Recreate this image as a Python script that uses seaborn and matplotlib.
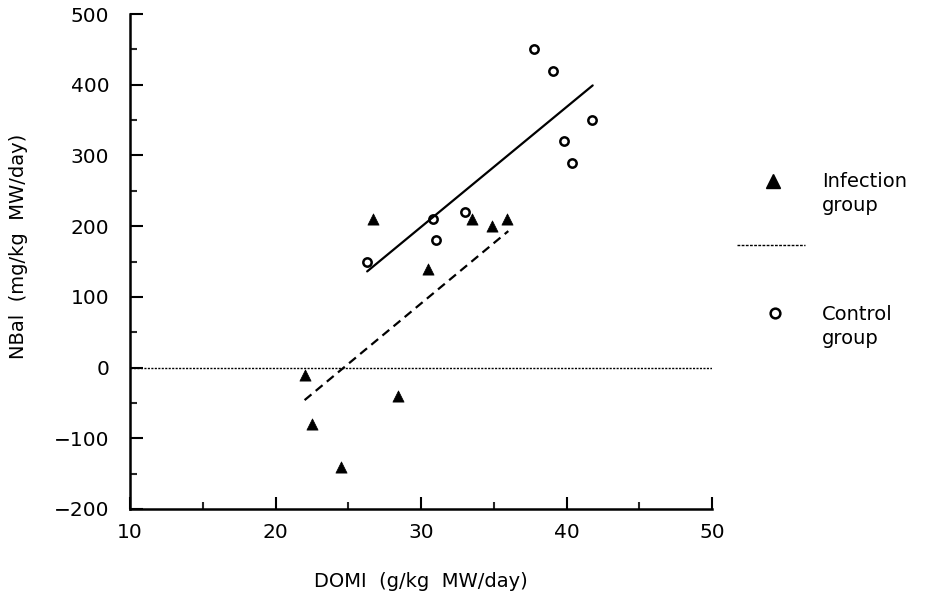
import matplotlib
matplotlib.use("Agg")
import matplotlib.pyplot as plt
import seaborn as sns
import pandas as pd
import numpy as np
from matplotlib.ticker import MultipleLocator
from matplotlib.lines import Line2D

# ---- data ----
infection_x = [22.0, 22.5, 24.5, 26.7, 28.4, 30.5, 33.5, 34.9, 35.9]
infection_y = [-10, -80, -140, 210, -40, 140, 210, 200, 210]
control_x = [26.3, 30.8, 31.0, 33.0, 37.8, 39.1, 39.8, 40.4, 41.75]
control_y = [150, 210, 180, 220, 450, 420, 320, 290, 350]
# regression lines (end points)
infection_fit_x = [22.0, 36.0]
infection_fit_y = [-46, 193]
control_fit_x = [26.3, 41.8]
control_fit_y = [136, 399]
zero_x = [10, 50]
zero_y = [0, 0]
legend_labels = ["Infection\ngroup", "Control\ngroup"]

sns.set_theme(style="white")
plt.rcParams['font.family'] = ['DejaVu Sans']
plt.rcParams['text.color'] = 'black'

W, H = 933, 612
fig = plt.figure(figsize=(W/100, H/100), dpi=100)
ax = fig.add_axes([130/W, 1-509/H, (712-130)/W, (509-14)/H])

df_inf = pd.DataFrame({"x": infection_x, "y": infection_y})
df_ctl = pd.DataFrame({"x": control_x, "y": control_y})

sns.lineplot(x=zero_x, y=zero_y, ax=ax, color="black", lw=1.0,
             linestyle=(0, (1.5, 1.0)))
sns.lineplot(x=control_fit_x, y=control_fit_y, ax=ax, color="black", lw=1.6)
sns.lineplot(x=infection_fit_x, y=infection_fit_y, ax=ax, color="black", lw=1.6,
             linestyle=(0, (4, 2.5)))
sns.scatterplot(data=df_inf, x="x", y="y", ax=ax, marker="^", s=65,
                color="black", edgecolor="black", linewidth=0.5)
sns.scatterplot(data=df_ctl, x="x", y="y", ax=ax, marker="o", s=36,
                facecolor="white", edgecolor="black", linewidth=1.8)

ax.set_xlim(10, 50)
ax.set_ylim(-200, 500)
ax.xaxis.set_major_locator(MultipleLocator(10))
ax.xaxis.set_minor_locator(MultipleLocator(5))
ax.yaxis.set_major_locator(MultipleLocator(100))
ax.yaxis.set_minor_locator(MultipleLocator(50))
ax.tick_params(axis="both", which="major", direction="in", length=9, width=1.5,
               labelsize=14.5, colors="black")
ax.tick_params(axis="y", which="major", pad=15)
ax.tick_params(axis="x", which="major", pad=10)
ax.tick_params(axis="both", which="minor", direction="in", length=5, width=1.5)
ax.tick_params(axis="x", which="both", bottom=True, top=False)
ax.tick_params(axis="y", which="both", left=True, right=False)

for s in ["top", "right"]:
    ax.spines[s].set_visible(False)
for s in ["left", "bottom"]:
    ax.spines[s].set_color("black")
    ax.spines[s].set_linewidth(1.8)

ax.set_xlabel("DOMI  (g/kg  MW/day)", fontsize=14, labelpad=22, color="black")
ax.set_ylabel("NBal  (mg/kg  MW/day)", fontsize=14, labelpad=16, color="black")
ax.yaxis.set_label_coords(-0.175, 0.53)

# ---- legend drawn at the right, as in the reference ----
def fx(px):
    return px / W

def fy(py):
    return 1 - py / H

fig.add_artist(Line2D([fx(773)], [fy(181)], marker="^", color="black",
                      linestyle="none", markersize=10, transform=fig.transFigure))
fig.add_artist(Line2D([fx(737), fx(805)], [fy(245), fy(245)], color="black", lw=1.0,
                      linestyle=(0, (2, 1)), transform=fig.transFigure))
fig.add_artist(Line2D([fx(775)], [fy(313)], marker="o", markerfacecolor="white",
                      markeredgecolor="black", markeredgewidth=1.8, linestyle="none",
                      markersize=7, transform=fig.transFigure))
fig.text(fx(822), fy(172), legend_labels[0], fontsize=14, va="top", ha="left",
         color="black", linespacing=1.35)
fig.text(fx(822), fy(305), legend_labels[1], fontsize=14, va="top", ha="left",
         color="black", linespacing=1.35)

fig.savefig("out.png", dpi=100)
